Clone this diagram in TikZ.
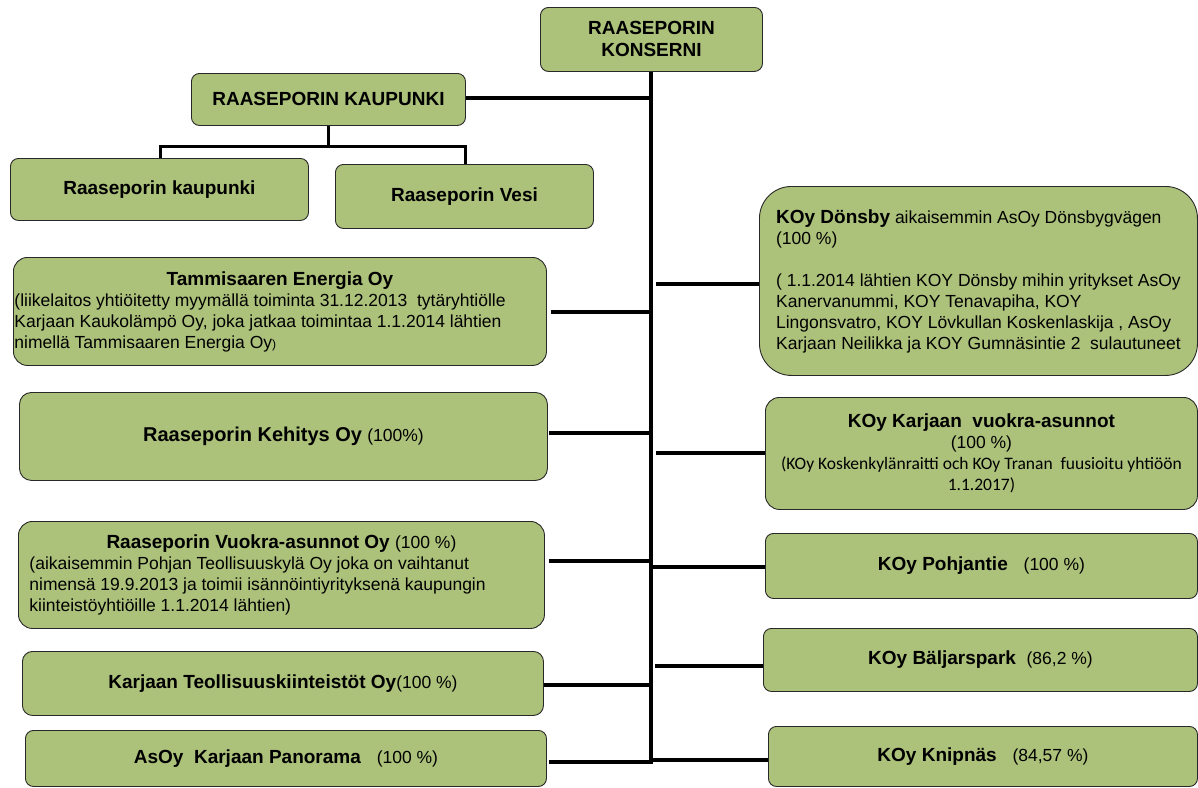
\documentclass[tikz,border=0pt]{standalone}
\usepackage{fontspec}
\setmainfont{Liberation Sans}
\newfontfamily\calibrifont{Carlito}
\usetikzlibrary{calc}
\definecolor{boxgreen}{RGB}{172,193,122}
\definecolor{boxline}{RGB}{40,40,40}
\newcommand\bsz{\fontsize{19}{21}\selectfont\bfseries}
\newcommand\rsz{\fontsize{17.5}{21}\selectfont\mdseries}
\begin{document}
\begin{tikzpicture}[x=1pt,y=-1pt,
  orgbox/.style={draw=boxline, line width=0.9pt, fill=boxgreen, rounded corners=8pt,
    inner sep=0pt, anchor=north west, font=\bsz},
  conn/.style={line width=4pt},
  thinconn/.style={line width=3pt}]
\useasboundingbox (0,0) rectangle (1198,787);

% top
\node[orgbox, minimum width=222, minimum height=64, align=center, font=\fontsize{19}{22}\selectfont\bfseries] (kon) at (540,7) {RAASEPORIN\\KONSERNI};
\node[orgbox, minimum width=274, minimum height=52] (kaup) at (191,73) {RAASEPORIN KAUPUNKI};
\node[orgbox, minimum width=298, minimum height=62] (rkau) at (10,158) {Raaseporin kaupunki};
\node[orgbox, minimum width=258, minimum height=64] (vesi) at (335,164) {Raaseporin Vesi};

% left column
\node[orgbox, rounded corners=14pt, minimum width=533, minimum height=108] (tam) at (13,257)
 {\parbox{531pt}{\centering\bsz Tammisaaren Energia Oy\par\raggedright\rsz
 (liikelaitos yhtiöitetty myymällä toiminta 31.12.2013\ \ tytäryhtiölle\\
 Karjaan Kaukolämpö Oy, joka jatkaa toimintaa 1.1.2014 lähtien\\
 nimellä Tammisaaren Energia Oy{\fontsize{12}{14}\selectfont)}}};
\node[orgbox, rounded corners=12pt, minimum width=528, minimum height=88] (keh) at (19,392)
 {{\fontsize{20}{22}\selectfont\bfseries Raaseporin Kehitys Oy} {\rsz (100\%)}};
\node[orgbox, rounded corners=14pt, minimum width=526, minimum height=107] (vuo) at (18,521)
 {\parbox{504pt}{\centering\bsz Raaseporin Vuokra-asunnot Oy {\rsz(100 \%)}\par\raggedright\rsz
 (aikaisemmin Pohjan Teollisuuskylä Oy joka on vaihtanut\\
 nimensä 19.9.2013 ja toimii isännöintiyrityksenä kaupungin\\
 kiinteistöyhtiöille 1.1.2014 lähtien)}};
\node[orgbox, rounded corners=10pt, minimum width=521, minimum height=64] (teo) at (22,651)
 {Karjaan Teollisuuskiinteistöt Oy{\rsz(100 \%)}};
\node[orgbox, minimum width=521, minimum height=56] (pan) at (25,730)
 {AsOy\ \ Karjaan Panorama\ \ \ {\rsz(100 \%)}};

% right column
\node[orgbox, rounded corners=32pt, minimum width=438, minimum height=189, align=left, font=\rsz] (don) at (759,186)
 {{\bsz KOy Dönsby} aikaisemmin AsOy Dönsbygvägen\\
 (100 \%)\\
 \mbox{}\\
 ( 1.1.2014 lähtien KOY Dönsby mihin yritykset AsOy\\
 Kanervanummi, KOY Tenavapiha, KOY\\
 Lingonsvatro, KOY Lövkullan Koskenlaskija , AsOy\\
 Karjaan Neilikka ja KOY Gumnäsintie 2\ \ sulautuneet};
\node[orgbox, rounded corners=14pt, minimum width=432, minimum height=112, align=center, font=\rsz] (kar) at (765,397)
 {{\bsz KOy Karjaan\ \ vuokra-asunnot}\\
 (100 \%)\\
 {\calibrifont (KOy Koskenkylänraitti och KOy Tranan\ \ fuusioitu yhtiöön}\\
 {\calibrifont 1.1.2017)}};
\node[orgbox, minimum width=432, minimum height=65] (poh) at (765,533)
 {KOy Pohjantie\ \ \ {\rsz(100 \%)}};
\node[orgbox, minimum width=434, minimum height=63] (bal) at (763,628)
 {KOy Bäljarspark\ \ {\rsz(86,2 \%)}};
\node[orgbox, minimum width=429, minimum height=60] (kni) at (768,726)
 {KOy Knipnäs\ \ \ {\rsz(84,57 \%)}};

% trunk
\coordinate (tbot) at (651,764);
\draw[conn] (kon.south) -- (kon.south |- tbot);

% kaupunki branch
\draw[conn] ([yshift=1pt]kaup.east) -- ([yshift=1pt]kaup.east -| kon.south);
\coordinate (br) at (328,146);
\draw[thinconn] (kaup.south -| br) -- (br);
\draw[thinconn, line join=miter] (rkau.north -| 160,0) -- (160,146) -- (465,146) -- (vesi.north -| 465,0);

% left connectors
\draw[conn] ($(tam.east)+(4,1)$) -- ($(tam.east -| kon.south)+(0,1)$);
\draw[conn] ($(keh.east)+(1,-3)$) -- ($(keh.east -| kon.south)+(0,-3)$);
\draw[conn] ($(vuo.east)+(4,-13.5)$) -- ($(vuo.east -| kon.south)+(0,-13.5)$);
\draw[conn] ($(teo.east)+(0,2)$) -- ($(teo.east -| kon.south)+(0,2)$);
\draw[conn] ($(pan.east)+(2,4)$) -- ($(pan.east -| kon.south)+(0,4)$);

% right connectors
\draw[conn] ($(don.west -| kon.south)+(5,3.5)$) -- ($(don.west)+(0,3.5)$);
\draw[conn] ($(kar.west -| kon.south)+(5,0)$) -- (kar.west);
\draw[conn] ($(poh.west -| kon.south)+(0,1.5)$) -- ($(poh.west)+(0,1.5)$);
\draw[conn] ($(bal.west -| kon.south)+(4,6.5)$) -- ($(bal.west)+(0,6.5)$);
\draw[conn] ($(kni.west -| kon.south)+(-2,4)$) -- ($(kni.west)+(0,4)$);
\end{tikzpicture}
\end{document}
